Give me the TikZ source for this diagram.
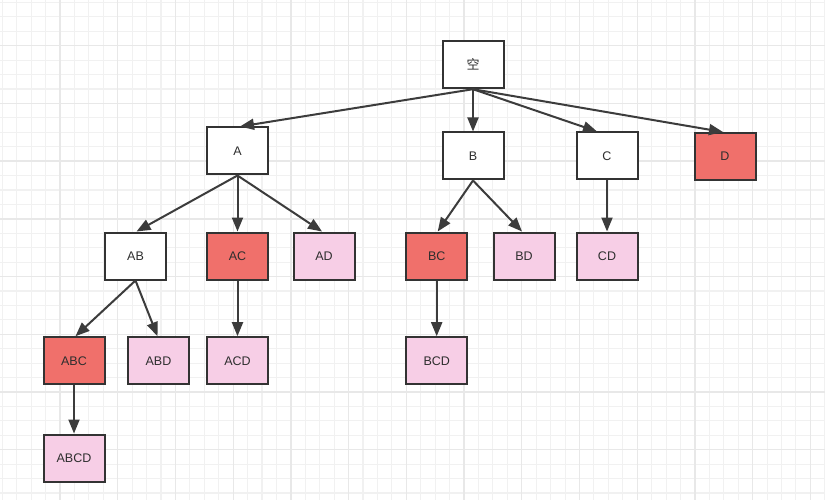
\documentclass[tikz,border=0pt]{standalone}
\usepackage{fontspec}
\setmainfont{Liberation Sans}
\newfontfamily\cjk{Noto Sans CJK SC}
\usetikzlibrary{arrows.meta}
\definecolor{gridminor}{HTML}{F1F1F1}
\definecolor{gridmajor}{HTML}{E8E8E8}
\definecolor{boxred}{HTML}{F0706B}
\definecolor{boxpink}{HTML}{F7CEE6}
\definecolor{boxline}{HTML}{333333}
\definecolor{edgeline}{HTML}{3C3C3C}
\tikzset{
  box/.style={draw=boxline, line width=2pt, minimum width=61pt, minimum height=47pt,
    inner sep=0pt, font=\fontsize{12.5}{14}\selectfont, text=black!82},
  whitebox/.style={box, fill=white},
  redbox/.style={box, fill=boxred},
  pinkbox/.style={box, fill=boxpink},
  edge/.style={draw=edgeline, line width=2pt, -{Triangle[length=14pt,width=11pt]}},
  minorline/.style={draw=gridminor, line width=1.1pt},
  majorline/.style={draw=gridmajor, line width=1.3pt}
}
\begin{document}
\begin{tikzpicture}[x=1pt,y=-1pt]
\useasboundingbox (0,0) rectangle (825,500);
\fill[white] (0,0) rectangle (825,500);
\foreach \i in {0,...,57} \draw[minorline] ({2.28+\i*14.43},0) -- ++(0,500);
\foreach \i in {0,...,34} \draw[minorline] (0,{2.41+\i*14.43}) -- ++(825,0);
\foreach \k in {0,...,13} \draw[majorline] ({60+\k*57.72},0) -- ++(0,500);
\foreach \k in {0,...,7} \draw[majorline] (0,{45.7+\k*57.72}) -- ++(825,0);

\node[whitebox] (root) at (473,64.7) {\cjk\fontsize{13}{15}\selectfont 空};
\node[whitebox] (A) at (237.5,151) {A};
\node[whitebox] (B) at (473,156) {B};
\node[whitebox] (C) at (607,156) {C};
\node[redbox] (D) at (725,156.5) {D};
\node[whitebox] (AB) at (135.5,256) {AB};
\node[redbox] (AC) at (237.5,256) {AC};
\node[pinkbox] (AD) at (324,256) {AD};
\node[redbox] (BC) at (436.7,256) {BC};
\node[pinkbox] (BD) at (524,256) {BD};
\node[pinkbox] (CD) at (607,256) {CD};
\node[redbox] (ABC) at (74,360.7) {ABC};
\node[pinkbox] (ABD) at (158.5,360.7) {ABD};
\node[pinkbox] (ACD) at (237.5,360.7) {ACD};
\node[pinkbox] (BCD) at (436.7,360.7) {BCD};
\node[pinkbox] (ABCD) at (74,458) {ABCD};

\draw[edge] (root.south) -- ([xshift=2.5pt]A.north);
\draw[edge] (root.south) -- (B.north);
\draw[edge] (root.south) -- ([xshift=-10pt]C.north);
\draw[edge] (root.south) -- ([xshift=-2pt]D.north);
\draw[edge] (A.south) -- ([xshift=1pt]AB.north);
\draw[edge] (A.south) -- (AC.north);
\draw[edge] (A.south) -- ([xshift=-2pt]AD.north);
\draw[edge] (B.south) -- ([xshift=1pt]BC.north);
\draw[edge] (B.south) -- ([xshift=-2pt]BD.north);
\draw[edge] (C.south) -- (CD.north);
\draw[edge] (AB.south) -- ([xshift=1.5pt]ABC.north);
\draw[edge] (AB.south) -- ([xshift=-1pt]ABD.north);
\draw[edge] (AC.south) -- (ACD.north);
\draw[edge] (BC.south) -- (BCD.north);
\draw[edge] (ABC.south) -- (ABCD.north);
\end{tikzpicture}
\end{document}
